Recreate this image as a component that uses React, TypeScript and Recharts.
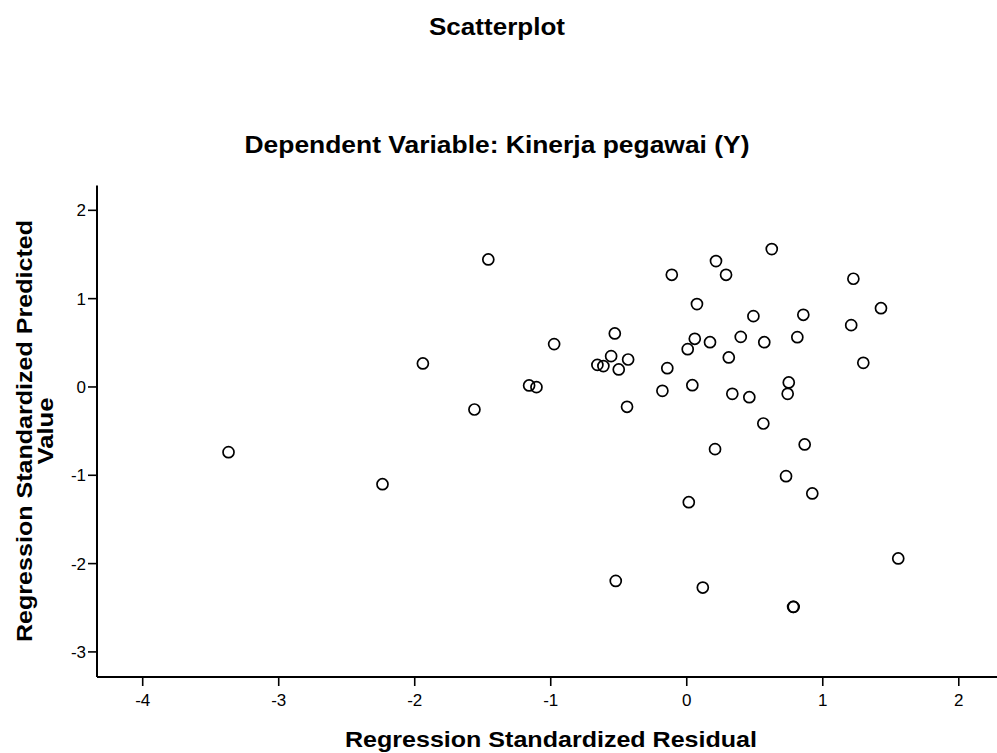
import { Scatter, ScatterChart, XAxis, YAxis } from 'recharts';

// Regression Standardized Residual (x) / Regression Standardized Predicted Value (y)
const residuals = [
  -3.369, -2.237, -1.94, -1.561, -1.459, -1.159, -1.105, -0.975, -0.657, -0.613,
  -0.556, -0.529, -0.5, -0.439, -0.431, -0.522, -0.179, -0.143, -0.11, 0.007,
  0.015, 0.041, 0.059, 0.075, 0.118, 0.171, 0.208, 0.215, 0.289, 0.309,
  0.335, 0.397, 0.46, 0.49, 0.563, 0.57, 0.625, 0.73, 0.742, 0.75,
  0.782, 0.786, 0.813, 0.857, 0.867, 0.923, 1.209, 1.225, 1.298, 1.428, 1.555,
];
const predicted = [
  -0.738, -1.101, 0.266, -0.255, 1.444, 0.017, -0.002, 0.485, 0.25, 0.236,
  0.349, 0.606, 0.198, -0.225, 0.311, -2.196, -0.044, 0.213, 1.27, 0.428,
  -1.305, 0.02, 0.545, 0.938, -2.271, 0.507, -0.704, 1.425, 1.27, 0.334,
  -0.078, 0.567, -0.116, 0.802, -0.414, 0.507, 1.561, -1.01, -0.078, 0.051,
  -2.49, -2.49, 0.564, 0.817, -0.651, -1.206, 0.7, 1.225, 0.273, 0.892, -1.942,
];

const xTicks = [-4, -3, -2, -1, 0, 1, 2];
const yTicks = [-3, -2, -1, 0, 1, 2];
const xDomain: [number, number] = [-4.336, 2.281];
const yDomain: [number, number] = [-3.284, 2.281];

const points = residuals.map((x, i) => ({ x, y: predicted[i] }));

const FONT = '"Liberation Sans", Arial, sans-serif';
const tickStyle = { fill: '#000', fontSize: 17, fontFamily: FONT };

function OpenCircle(props: { cx?: number; cy?: number }) {
  const { cx, cy } = props;
  if (cx == null || cy == null) return null;
  return <circle cx={cx} cy={cy} r={5.5} fill="none" stroke="#000" strokeWidth={1.7} />;
}

export default function App() {
  return (
    <div style={{ position: 'absolute', left: 0, top: 0, width: 997, height: 753, background: '#fff' }}>
      <ScatterChart width={997} height={753} margin={{ top: 185.5, right: 0, bottom: 0, left: 0 }}>
        <XAxis
          xAxisId="top"
          orientation="top"
          type="number"
          dataKey="x"
          domain={xDomain}
          allowDataOverflow
          tick={false}
          tickLine={false}
          height={0}
          axisLine={{ stroke: '#000', strokeWidth: 2 }}
        />
        <XAxis
          type="number"
          dataKey="x"
          domain={xDomain}
          allowDataOverflow
          ticks={xTicks}
          interval={0}
          height={76}
          tickSize={9}
          tickMargin={8}
          tick={tickStyle}
          tickLine={{ stroke: '#000', strokeWidth: 1.6 }}
          axisLine={{ stroke: '#000', strokeWidth: 2 }}
        />
        <YAxis
          type="number"
          dataKey="y"
          domain={yDomain}
          allowDataOverflow
          ticks={yTicks}
          interval={0}
          width={97}
          tickSize={9}
          tickMargin={2}
          tick={tickStyle}
          tickLine={{ stroke: '#000', strokeWidth: 1.6 }}
          axisLine={{ stroke: '#000', strokeWidth: 2 }}
        />
        <Scatter data={points} shape={<OpenCircle />} isAnimationActive={false} />
      </ScatterChart>
      <svg
        width={997}
        height={753}
        style={{ position: 'absolute', left: 0, top: 0, pointerEvents: 'none' }}
        fontFamily={FONT}
        fontWeight="bold"
        fontSize={22}
      >
        <text x={497} y={35} fontSize={23} textAnchor="middle" textLength={136} lengthAdjust="spacingAndGlyphs">
          Scatterplot
        </text>
        <text x={497} y={153} fontSize={23} textAnchor="middle" textLength={505} lengthAdjust="spacingAndGlyphs">
          Dependent Variable: Kinerja pegawai (Y)
        </text>
        <text x={551} y={747} textAnchor="middle" textLength={412} lengthAdjust="spacingAndGlyphs">
          Regression Standardized Residual
        </text>
        <text
          transform="translate(32,431) rotate(-90)"
          textAnchor="middle"
          textLength={422}
          lengthAdjust="spacingAndGlyphs"
        >
          Regression Standardized Predicted
        </text>
        <text transform="translate(53,431) rotate(-90)" textAnchor="middle" textLength={67} lengthAdjust="spacingAndGlyphs">
          Value
        </text>
      </svg>
    </div>
  );
}
